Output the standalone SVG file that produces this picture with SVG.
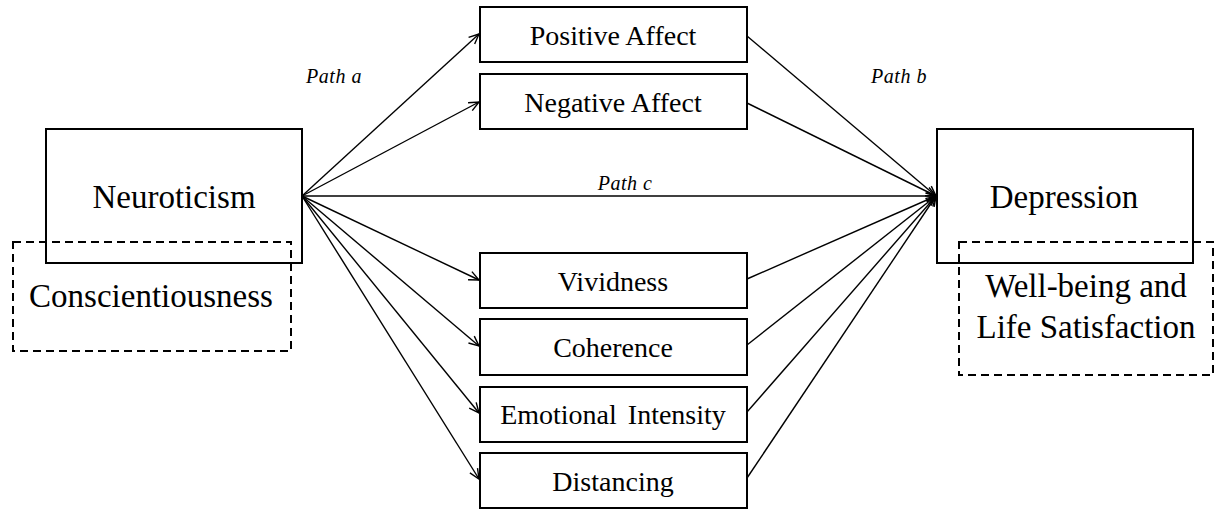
<svg xmlns="http://www.w3.org/2000/svg" width="1215" height="510" viewBox="0 0 1215 510">
<style>
.box{fill:none;stroke:#000;stroke-width:2}
.dash{fill:none;stroke:#000;stroke-width:2;stroke-dasharray:8 5}
.big{font-family:"Liberation Serif","Times New Roman",serif;font-size:33px;fill:#000;text-anchor:middle}
.mid{font-family:"Liberation Serif","Times New Roman",serif;font-size:28px;fill:#000;text-anchor:middle}
.path{font-family:"Liberation Serif","Times New Roman",serif;font-size:20px;font-style:italic;fill:#000;text-anchor:middle;letter-spacing:0.5px}
.con{fill:none;stroke:#000;stroke-width:1.4}
</style>
<defs>
<marker id="arr" markerUnits="userSpaceOnUse" markerWidth="14" markerHeight="12" refX="11" refY="5" orient="auto" viewBox="0 0 14 10">
<path d="M1,0.5 L11,5 L1,9.5" fill="none" stroke="#000" stroke-width="1.4"/>
</marker>
</defs>
<rect width="1215" height="510" fill="#fff"/>
<g id="connectors">
<line class="con" x1="302" y1="196" x2="479" y2="34" marker-end="url(#arr)"/>
<line class="con" x1="302" y1="196" x2="479" y2="102" marker-end="url(#arr)"/>
<line class="con" x1="302" y1="196" x2="936" y2="196" marker-end="url(#arr)"/>
<line class="con" x1="302" y1="196" x2="479" y2="280" marker-end="url(#arr)"/>
<line class="con" x1="302" y1="196" x2="479" y2="346" marker-end="url(#arr)"/>
<line class="con" x1="302" y1="196" x2="479" y2="413" marker-end="url(#arr)"/>
<line class="con" x1="302" y1="196" x2="479" y2="479" marker-end="url(#arr)"/>
<line class="con" x1="747" y1="36" x2="936" y2="196" marker-end="url(#arr)"/>
<line class="con" x1="747" y1="103" x2="936" y2="196" marker-end="url(#arr)"/>
<line class="con" x1="747" y1="279" x2="936" y2="196" marker-end="url(#arr)"/>
<line class="con" x1="747" y1="345" x2="936" y2="196" marker-end="url(#arr)"/>
<line class="con" x1="747" y1="412" x2="936" y2="196" marker-end="url(#arr)"/>
<line class="con" x1="747" y1="478" x2="936" y2="196" marker-end="url(#arr)"/>
<text class="path" x="334" y="83">Path a</text>
<text class="path" x="899" y="83">Path b</text>
<text class="path" x="625" y="190">Path c</text>
</g>
<g id="neuroticism">
<rect class="box" x="46" y="129" width="256" height="134"/>
<text class="big" x="174" y="208">Neuroticism</text>
</g>
<g id="conscientiousness">
<rect class="dash" x="13" y="242" width="278" height="109"/>
<text class="big" x="151" y="307">Conscientiousness</text>
</g>
<g id="depression">
<rect class="box" x="937" y="129" width="256" height="134"/>
<text class="big" x="1064" y="208">Depression</text>
</g>
<g id="wellbeing">
<rect class="dash" x="959" y="242" width="254" height="133"/>
<text class="big" x="1086" y="297">Well-being and</text>
<text class="big" x="1086" y="338">Life Satisfaction</text>
</g>
<g id="positive-affect">
<rect class="box" x="480" y="7" width="267" height="55"/>
<text class="mid" x="613" y="45">Positive Affect</text>
</g>
<g id="negative-affect">
<rect class="box" x="480" y="74" width="267" height="55"/>
<text class="mid" x="613" y="112">Negative Affect</text>
</g>
<g id="vividness">
<rect class="box" x="480" y="253" width="267" height="55"/>
<text class="mid" x="613" y="291">Vividness</text>
</g>
<g id="coherence">
<rect class="box" x="480" y="319" width="267" height="56"/>
<text class="mid" x="613" y="357">Coherence</text>
</g>
<g id="emotional-intensity">
<rect class="box" x="480" y="387" width="267" height="55"/>
<text class="mid" x="613" y="424" word-spacing="4">Emotional Intensity</text>
</g>
<g id="distancing">
<rect class="box" x="480" y="453" width="267" height="55"/>
<text class="mid" x="613" y="491">Distancing</text>
</g>
</svg>
